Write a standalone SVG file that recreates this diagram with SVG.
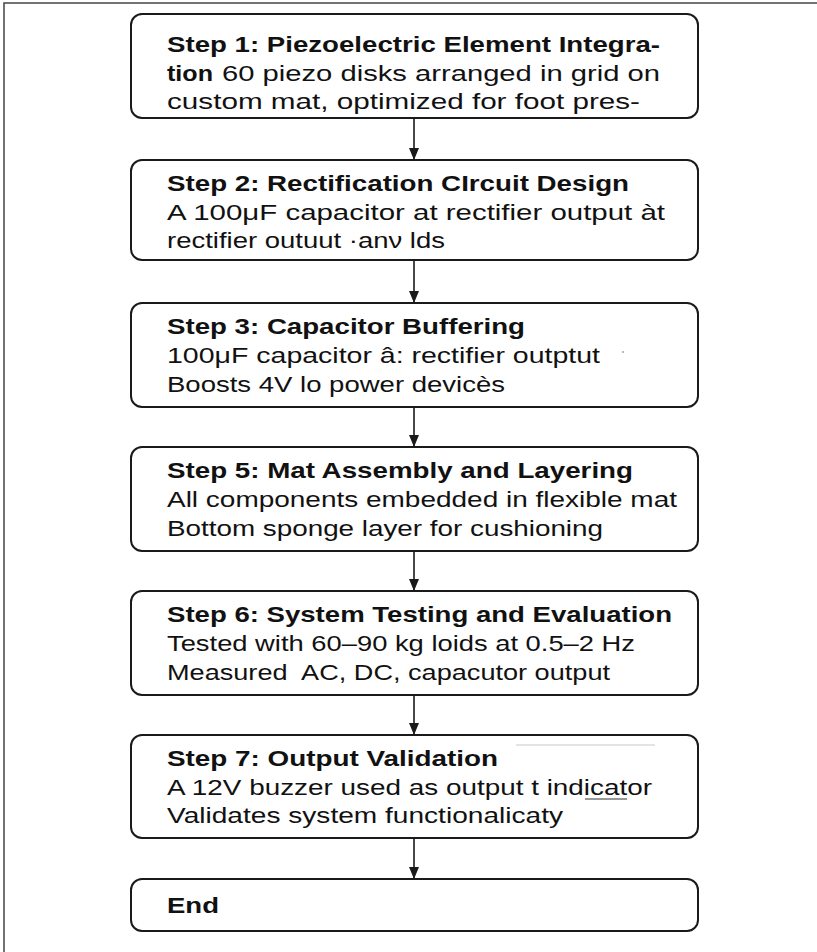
<svg xmlns="http://www.w3.org/2000/svg" width="817" height="952" viewBox="0 0 817 952">
<style>
.box{fill:#fff;stroke:#1a1a1a;stroke-width:2}
.t{font-family:"Liberation Sans",Arial,sans-serif;font-size:22px;fill:#111}
.b{font-weight:bold}
.conn line{stroke:#1a1a1a;stroke-width:1.6}
.frame{stroke:#444;stroke-width:1.5;fill:none}
</style>
<defs>
<marker id="arr" viewBox="0 0 12 10" refX="12" refY="5" markerWidth="12" markerHeight="10" markerUnits="userSpaceOnUse" orient="auto">
<path d="M0,0 L12,5 L0,10 Z" fill="#1a1a1a"/>
</marker>
</defs>
<rect width="817" height="952" fill="#fff"/>
<path class="frame" d="M4,952 V3 H817"/>
<g class="conn">
<line x1="414" y1="118" x2="414" y2="160" marker-end="url(#arr)"/>
<line x1="414" y1="260" x2="414" y2="303" marker-end="url(#arr)"/>
<line x1="414" y1="407" x2="414" y2="447" marker-end="url(#arr)"/>
<line x1="414" y1="551" x2="414" y2="591" marker-end="url(#arr)"/>
<line x1="414" y1="695" x2="414" y2="735" marker-end="url(#arr)"/>
<line x1="414" y1="838" x2="414" y2="879" marker-end="url(#arr)"/>
</g>
<g id="step1">
<rect class="box" x="131" y="14" width="567" height="104" rx="11"/>
<text class="t b" x="167" y="52" textLength="493" lengthAdjust="spacingAndGlyphs">Step 1: Piezoelectric Element Integra-</text>
<text class="t" x="167" y="81"><tspan class="b" textLength="46" lengthAdjust="spacingAndGlyphs">tion</tspan><tspan x="222" textLength="438" lengthAdjust="spacingAndGlyphs">60 piezo disks arranged in grid on</tspan></text>
<text class="t" x="167" y="109" textLength="473" lengthAdjust="spacingAndGlyphs">custom mat, optimized for foot pres-</text>
</g>
<g id="step2">
<rect class="box" x="131" y="160" width="567" height="100" rx="11"/>
<text class="t b" x="167" y="191" textLength="462" lengthAdjust="spacingAndGlyphs">Step 2: Rectification CIrcuit Design</text>
<text class="t" x="167" y="220" textLength="498" lengthAdjust="spacingAndGlyphs">A 100μF capacitor at rectifier output àt</text>
<text class="t" x="167" y="248" textLength="278" lengthAdjust="spacingAndGlyphs">rectifier outuut ·anν lds</text>
</g>
<g id="step3">
<rect class="box" x="131" y="303" width="567" height="104" rx="11"/>
<text class="t b" x="167" y="334" textLength="358" lengthAdjust="spacingAndGlyphs">Step 3: Capacitor Buffering</text>
<text class="t" x="167" y="363" textLength="433" lengthAdjust="spacingAndGlyphs">100μF capacitor â: rectifier outptut</text>
<text class="t" x="167" y="392" textLength="338" lengthAdjust="spacingAndGlyphs">Boosts 4V lo power devicès</text>
<circle cx="623" cy="352" r="0.9" fill="#999"/>
</g>
<g id="step5">
<rect class="box" x="131" y="447" width="567" height="104" rx="11"/>
<text class="t b" x="167" y="478" textLength="466" lengthAdjust="spacingAndGlyphs">Step 5: Mat Assembly and Layering</text>
<text class="t" x="167" y="507" textLength="510" lengthAdjust="spacingAndGlyphs">All components embedded in flexible mat</text>
<text class="t" x="167" y="536" textLength="436" lengthAdjust="spacingAndGlyphs">Bottom sponge layer for cushioning</text>
</g>
<g id="step6">
<rect class="box" x="131" y="591" width="567" height="104" rx="11"/>
<text class="t b" x="167" y="622" textLength="505" lengthAdjust="spacingAndGlyphs">Step 6: System Testing and Evaluation</text>
<text class="t" x="167" y="651" textLength="468" lengthAdjust="spacingAndGlyphs">Tested with 60–90 kg loids at 0.5–2 Hz</text>
<text class="t" x="167" y="680" textLength="443" lengthAdjust="spacingAndGlyphs" xml:space="preserve">Measured  AC, DC, capacutor output</text>
</g>
<g id="step7">
<rect class="box" x="131" y="735" width="567" height="103" rx="11"/>
<line x1="516" y1="745" x2="655" y2="745" stroke="#c8c8c8" stroke-width="1"/>
<text class="t b" x="167" y="766" textLength="331" lengthAdjust="spacingAndGlyphs">Step 7: Output Validation</text>
<text class="t" x="167" y="795" textLength="485" lengthAdjust="spacingAndGlyphs">A 12V buzzer used as output t indicator</text>
<line x1="585" y1="799" x2="627" y2="799" stroke="#333" stroke-width="1.2"/>
<text class="t" x="167" y="823" textLength="396" lengthAdjust="spacingAndGlyphs">Validates system functionalicaty</text>
</g>
<g id="end">
<rect class="box" x="131" y="879" width="567" height="52" rx="11"/>
<text class="t b" x="167" y="913" textLength="52" lengthAdjust="spacingAndGlyphs">End</text>
</g>
</svg>
